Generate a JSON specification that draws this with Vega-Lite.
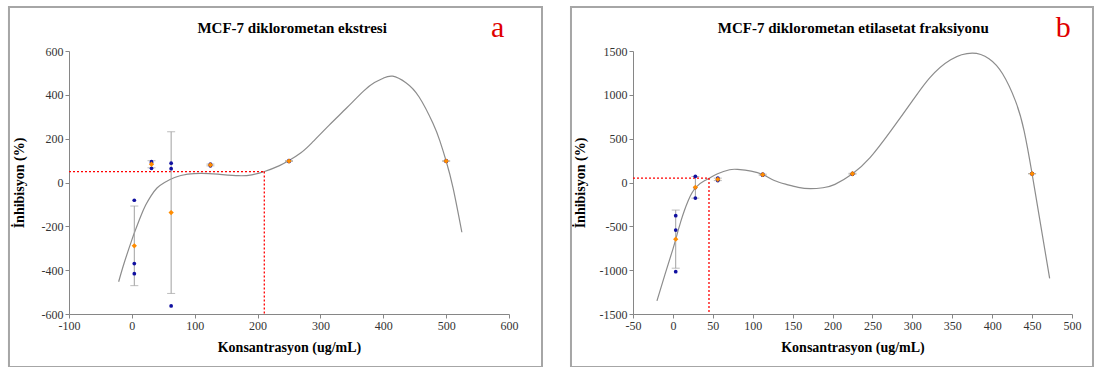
{
  "$schema": "https://vega.github.io/schema/vega-lite/v6.json",
  "padding": {"left": 7, "top": 5, "right": 2, "bottom": 0},
  "spacing": 25,
  "background": "white",
  "config": {
    "view": {"stroke": null},
    "font": "Liberation Serif",
    "axis": {
      "grid": false, "domainColor": "#868686", "tickColor": "#868686", "tickSize": 4,
      "labelFont": "Liberation Serif", "labelFontSize": 12, "labelColor": "#333333", "labelPadding": 2,
      "labelOverlap": false, "labelFlush": false, "labelSeparation": 0,
      "titleFont": "Liberation Serif", "titleFontSize": 14, "titleFontWeight": "bold", "titleColor": "#000000"
    },
    "axisX": {"titlePadding": 9, "labelOverlap": false},
    "axisQuantitative": {"labelOverlap": false}
  },
  "datasets": {
    "a_reps": [
      {"conc": 3.9, "v": -81}, {"conc": 3.9, "v": -370}, {"conc": 3.9, "v": -416},
      {"conc": 31.25, "v": 95}, {"conc": 31.25, "v": 90}, {"conc": 31.25, "v": 65},
      {"conc": 62.5, "v": 88}, {"conc": 62.5, "v": 63}, {"conc": 62.5, "v": -563},
      {"conc": 125, "v": 84}, {"conc": 125, "v": 80}, {"conc": 125, "v": 76},
      {"conc": 250, "v": 100}, {"conc": 250, "v": 98}, {"conc": 250, "v": 96},
      {"conc": 500, "v": 99}, {"conc": 500, "v": 98}, {"conc": 500, "v": 97}
    ],
    "a_curve": [
      {"x": -21, "y": -453}, {"x": -12, "y": -365}, {"x": 0, "y": -262}, {"x": 5, "y": -222},
      {"x": 14, "y": -155}, {"x": 22, "y": -103}, {"x": 30, "y": -63}, {"x": 40, "y": -25},
      {"x": 52, "y": 0}, {"x": 68, "y": 23}, {"x": 89, "y": 38}, {"x": 111, "y": 42},
      {"x": 137, "y": 38}, {"x": 170, "y": 31}, {"x": 191, "y": 35}, {"x": 211, "y": 50},
      {"x": 234, "y": 76}, {"x": 250, "y": 100}, {"x": 269, "y": 136}, {"x": 286, "y": 180},
      {"x": 314, "y": 262}, {"x": 342, "y": 341}, {"x": 369, "y": 418}, {"x": 386, "y": 456},
      {"x": 400, "y": 476}, {"x": 415, "y": 485}, {"x": 436, "y": 455}, {"x": 457, "y": 390},
      {"x": 479, "y": 270}, {"x": 490, "y": 190}, {"x": 500, "y": 98}, {"x": 511, "y": -25},
      {"x": 525, "y": -227}
    ],
    "a_ic": [{"x0": -100, "x": 210.7, "y": 50, "y0": -600}],
    "b_reps": [
      {"conc": 3.52, "v": -379}, {"conc": 3.52, "v": -542}, {"conc": 3.52, "v": -1017},
      {"conc": 28.13, "v": 70}, {"conc": 28.13, "v": -58}, {"conc": 28.13, "v": -177},
      {"conc": 56.25, "v": 50}, {"conc": 56.25, "v": 35}, {"conc": 56.25, "v": 22},
      {"conc": 112.5, "v": 95}, {"conc": 112.5, "v": 89}, {"conc": 112.5, "v": 83},
      {"conc": 225, "v": 105}, {"conc": 225, "v": 100}, {"conc": 225, "v": 95},
      {"conc": 450, "v": 102}, {"conc": 450, "v": 100}, {"conc": 450, "v": 98}
    ],
    "b_curve": [
      {"x": -20, "y": -1350}, {"x": -10, "y": -1050}, {"x": 0, "y": -760}, {"x": 3.5, "y": -648},
      {"x": 10, "y": -440}, {"x": 19, "y": -210}, {"x": 29, "y": -53}, {"x": 40, "y": 23},
      {"x": 46, "y": 50}, {"x": 56, "y": 99}, {"x": 71, "y": 145}, {"x": 81, "y": 149},
      {"x": 98, "y": 130}, {"x": 112.5, "y": 92}, {"x": 127, "y": 23}, {"x": 142, "y": -21},
      {"x": 157, "y": -55}, {"x": 172, "y": -70}, {"x": 188, "y": -60}, {"x": 203, "y": -21},
      {"x": 225, "y": 100}, {"x": 247, "y": 283}, {"x": 273, "y": 588}, {"x": 300, "y": 930},
      {"x": 322, "y": 1196}, {"x": 348, "y": 1400}, {"x": 375, "y": 1475}, {"x": 396, "y": 1412},
      {"x": 413, "y": 1240}, {"x": 429, "y": 934}, {"x": 440, "y": 590}, {"x": 450, "y": 100},
      {"x": 459, "y": -390}, {"x": 472, "y": -1094}
    ],
    "b_ic": [{"x0": -50, "x": 45.2, "y": 50, "y0": -1500}],
    "a_text": [
      {"label": "MCF-7 diklorometan ekstresi", "tx": 255, "ty": 682, "kind": "title"},
      {"label": "a", "tx": 582, "ty": 664, "kind": "letter"}
    ],
    "b_text": [
      {"label": "MCF-7 diklorometan etilasetat fraksiyonu", "tx": 226, "ty": 1705, "kind": "title"},
      {"label": "b", "tx": 489, "ty": 1660, "kind": "letter"}
    ]
  },
  "hconcat": [
    {
      "width": 440, "height": 263,
      "layer": [
        {
          "data": {"values": [{"frame": 1}]},
          "mark": {"type": "rect", "fill": null, "stroke": "#a6a6a6", "strokeWidth": 2, "clip": false},
          "encoding": {
            "x": {"datum": -195.5, "type": "quantitative", "title": "Konsantrasyon (ug/mL)"},
            "x2": {"datum": 652.5},
            "y": {"datum": 800.8, "type": "quantitative", "title": "İnhibisyon (%)"},
            "y2": {"datum": -841.8}
          }
        },
        {
          "data": {"name": "a_curve"},
          "mark": {"type": "line", "color": "#8c8c8c", "strokeWidth": 1.2, "interpolate": "natural", "clip": false},
          "encoding": {
            "x": {"field": "x", "type": "quantitative", "title": "Konsantrasyon (ug/mL)",
                  "scale": {"domain": [-100, 600], "nice": false, "zero": false},
                  "axis": {"values": [-100, 0, 100, 200, 300, 400, 500, 600], "labelOverlap": false, "labelExpr": "'' + datum.value"}},
            "y": {"field": "y", "type": "quantitative", "title": "İnhibisyon (%)",
                  "scale": {"domain": [-600, 600], "nice": false, "zero": false},
                  "axis": {"values": [-600, -400, -200, 0, 200, 400, 600], "titlePadding": 15, "labelOverlap": false, "labelExpr": "'' + datum.value"}}
          }
        },
        {
          "data": {"name": "a_ic"},
          "mark": {"type": "rule", "color": "#ff0000", "strokeDash": [2, 2], "strokeWidth": 1.3},
          "encoding": {
            "x": {"field": "x0", "type": "quantitative", "title": "Konsantrasyon (ug/mL)"},
            "x2": {"field": "x"},
            "y": {"field": "y", "type": "quantitative", "title": "İnhibisyon (%)"}
          }
        },
        {
          "data": {"name": "a_ic"},
          "mark": {"type": "rule", "color": "#ff0000", "strokeDash": [2, 2], "strokeWidth": 1.3},
          "encoding": {
            "x": {"field": "x", "type": "quantitative", "title": "Konsantrasyon (ug/mL)"},
            "y": {"field": "y", "type": "quantitative", "title": "İnhibisyon (%)"},
            "y2": {"field": "y0"}
          }
        },
        {
          "data": {"name": "a_reps"},
          "mark": {"type": "errorbar", "extent": "stdev", "orient": "vertical", "color": "#a0a0a0", "ticks": {"size": 8, "color": "#a0a0a0"}},
          "encoding": {
            "x": {"field": "conc", "type": "quantitative", "title": "Konsantrasyon (ug/mL)"},
            "y": {"field": "v", "type": "quantitative", "title": "İnhibisyon (%)"}
          }
        },
        {
          "data": {"name": "a_reps"},
          "mark": {"type": "point", "filled": true, "shape": "circle", "size": 14, "color": "#1010a0", "opacity": 1},
          "encoding": {
            "x": {"field": "conc", "type": "quantitative", "title": "Konsantrasyon (ug/mL)"},
            "y": {"field": "v", "type": "quantitative", "title": "İnhibisyon (%)"}
          }
        },
        {
          "data": {"name": "a_reps"},
          "mark": {"type": "point", "filled": true, "shape": "diamond", "size": 28, "color": "#ff8c00", "opacity": 1},
          "encoding": {
            "x": {"field": "conc", "type": "quantitative", "title": "Konsantrasyon (ug/mL)"},
            "y": {"aggregate": "mean", "field": "v", "type": "quantitative", "title": "İnhibisyon (%)"}
          }
        },
        {
          "data": {"name": "a_text"},
          "transform": [{"filter": "datum.kind === 'title'"}],
          "mark": {"type": "text", "color": "#000000", "fontSize": 15, "fontWeight": "bold", "font": "Liberation Serif", "baseline": "alphabetic", "align": "center"},
          "encoding": {
            "x": {"field": "tx", "type": "quantitative", "title": "Konsantrasyon (ug/mL)"},
            "y": {"field": "ty", "type": "quantitative", "title": "İnhibisyon (%)"},
            "text": {"field": "label"}
          }
        },
        {
          "data": {"name": "a_text"},
          "transform": [{"filter": "datum.kind === 'letter'"}],
          "mark": {"type": "text", "color": "#e00000", "fontSize": 30, "font": "Liberation Serif", "baseline": "alphabetic", "align": "center"},
          "encoding": {
            "x": {"field": "tx", "type": "quantitative", "title": "Konsantrasyon (ug/mL)"},
            "y": {"field": "ty", "type": "quantitative", "title": "İnhibisyon (%)"},
            "text": {"field": "label"}
          }
        }
      ]
    },
    {
      "width": 439, "height": 263,
      "layer": [
        {
          "data": {"values": [{"frame": 1}]},
          "mark": {"type": "rect", "fill": null, "stroke": "#a6a6a6", "strokeWidth": 2, "clip": false},
          "encoding": {
            "x": {"datum": -127.7, "type": "quantitative", "title": "Konsantrasyon (ug/mL)"},
            "x2": {"datum": 526.3},
            "y": {"datum": 2001.9, "type": "quantitative", "title": "İnhibisyon (%)"},
            "y2": {"datum": -2104.5}
          }
        },
        {
          "data": {"name": "b_curve"},
          "mark": {"type": "line", "color": "#8c8c8c", "strokeWidth": 1.2, "interpolate": "natural", "clip": false},
          "encoding": {
            "x": {"field": "x", "type": "quantitative", "title": "Konsantrasyon (ug/mL)",
                  "scale": {"domain": [-50, 500], "nice": false, "zero": false},
                  "axis": {"tickCount": 11, "labelOverlap": false, "labelExpr": "'' + datum.value"}},
            "y": {"field": "y", "type": "quantitative", "title": "İnhibisyon (%)",
                  "scale": {"domain": [-1500, 1500], "nice": false, "zero": false},
                  "axis": {"values": [-1500, -1000, -500, 0, 500, 1000, 1500], "titlePadding": 12, "labelOverlap": false, "labelExpr": "'' + datum.value"}}
          }
        },
        {
          "data": {"name": "b_ic"},
          "mark": {"type": "rule", "color": "#ff0000", "strokeDash": [2, 2], "strokeWidth": 1.3},
          "encoding": {
            "x": {"field": "x0", "type": "quantitative", "title": "Konsantrasyon (ug/mL)"},
            "x2": {"field": "x"},
            "y": {"field": "y", "type": "quantitative", "title": "İnhibisyon (%)"}
          }
        },
        {
          "data": {"name": "b_ic"},
          "mark": {"type": "rule", "color": "#ff0000", "strokeDash": [2, 2], "strokeWidth": 1.3},
          "encoding": {
            "x": {"field": "x", "type": "quantitative", "title": "Konsantrasyon (ug/mL)"},
            "y": {"field": "y", "type": "quantitative", "title": "İnhibisyon (%)"},
            "y2": {"field": "y0"}
          }
        },
        {
          "data": {"name": "b_reps"},
          "mark": {"type": "errorbar", "extent": "stdev", "orient": "vertical", "color": "#a0a0a0", "ticks": {"size": 8, "color": "#a0a0a0"}},
          "encoding": {
            "x": {"field": "conc", "type": "quantitative", "title": "Konsantrasyon (ug/mL)"},
            "y": {"field": "v", "type": "quantitative", "title": "İnhibisyon (%)"}
          }
        },
        {
          "data": {"name": "b_reps"},
          "mark": {"type": "point", "filled": true, "shape": "circle", "size": 14, "color": "#1010a0", "opacity": 1},
          "encoding": {
            "x": {"field": "conc", "type": "quantitative", "title": "Konsantrasyon (ug/mL)"},
            "y": {"field": "v", "type": "quantitative", "title": "İnhibisyon (%)"}
          }
        },
        {
          "data": {"name": "b_reps"},
          "mark": {"type": "point", "filled": true, "shape": "diamond", "size": 28, "color": "#ff8c00", "opacity": 1},
          "encoding": {
            "x": {"field": "conc", "type": "quantitative", "title": "Konsantrasyon (ug/mL)"},
            "y": {"aggregate": "mean", "field": "v", "type": "quantitative", "title": "İnhibisyon (%)"}
          }
        },
        {
          "data": {"name": "b_text"},
          "transform": [{"filter": "datum.kind === 'title'"}],
          "mark": {"type": "text", "color": "#000000", "fontSize": 15, "fontWeight": "bold", "font": "Liberation Serif", "baseline": "alphabetic", "align": "center"},
          "encoding": {
            "x": {"field": "tx", "type": "quantitative", "title": "Konsantrasyon (ug/mL)"},
            "y": {"field": "ty", "type": "quantitative", "title": "İnhibisyon (%)"},
            "text": {"field": "label"}
          }
        },
        {
          "data": {"name": "b_text"},
          "transform": [{"filter": "datum.kind === 'letter'"}],
          "mark": {"type": "text", "color": "#e00000", "fontSize": 30, "font": "Liberation Serif", "baseline": "alphabetic", "align": "center"},
          "encoding": {
            "x": {"field": "tx", "type": "quantitative", "title": "Konsantrasyon (ug/mL)"},
            "y": {"field": "ty", "type": "quantitative", "title": "İnhibisyon (%)"},
            "text": {"field": "label"}
          }
        }
      ]
    }
  ]
}
